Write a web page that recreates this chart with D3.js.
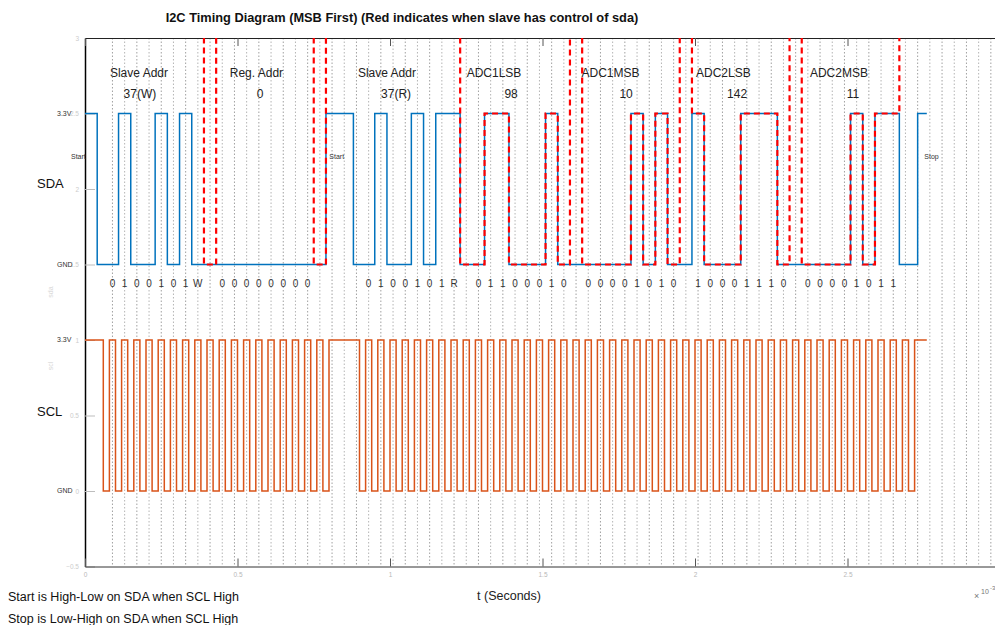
<!DOCTYPE html>
<html>
<head>
<meta charset="utf-8">
<script src="https://cdn.jsdelivr.net/npm/d3@7"></script>
<style>
  body { margin: 0; background: #fff; }
  svg { font-family: "Liberation Sans", Arial, Helvetica, sans-serif; }
</style>
</head>
<body>
<svg id="chart" width="995" height="625"></svg>
<script>
// clock period in ms (x axis is in units of 1e-3 s)
var clockPeriod = 0.04;

// SCL, one char per clock slot: H = high whole slot, p = high first half then low
var sclSlots = [
  "Hp",                 // idle, start
  "pppppppp", "p",      // slave addr + W, ack
  "pppppppp", "p",      // reg addr, ack
  "HHp",                // repeated start
  "pppppppp", "p",      // slave addr + R, ack
  "pppppppp", "p",      // ADC1LSB, ack
  "pppppppp", "p",      // ADC1MSB, ack
  "pppppppp", "p",      // ADC2LSB, ack
  "pppppppp", "p",      // ADC2MSB, nack
  "H"                   // stop
].join("");

// SDA edges: [time in clock periods, level after the edge]
var sdaEdges = [
  [0, 1], [1, 0],
  [2.75, 1], [3.75, 0], [5.75, 1], [6.75, 0], [7.75, 1], [8.75, 0],
  [19.75, 1], [22, 0],
  [23.75, 1], [24.75, 0], [26.75, 1], [27.75, 0], [28.75, 1], [30.75, 0],
  [32.75, 1], [34.75, 0], [37.75, 1], [38.75, 0],
  [44.75, 1], [45.75, 0], [46.75, 1], [47.75, 0],
  [49.75, 1], [50.75, 0], [53.75, 1], [56.75, 0],
  [62.75, 1], [63.75, 0], [64.75, 1], [66.75, 0],
  [68.25, 1]
];
var signalEnd = 69;   // clock periods

// spans where the slave drives SDA (clock periods)
var slaveSpans = [[9.75, 10.75], [18.75, 19.75], [30.75, 39.75], [40.75, 48.75], [49.75, 57.75], [58.75, 66.75]];

var fieldNames = ["Slave Addr", "Reg. Addr", "Slave Addr", "ADC1LSB", "ADC1MSB", "ADC2LSB", "ADC2MSB"];
var fieldValues = ["37(W)", "0", "37(R)", "98", "10", "142", "11"];
var fieldBits = ["0100101W", "00000000", "0100101R", "01100010", "00001010", "10001110", "00001011"];
var fieldFirstSlot = [2, 11, 23, 32, 41, 50, 59];
// where the field captions sit (ms)
var fieldNameAt = [0.177, 0.562, 0.990, 1.341, 1.723, 2.093, 2.472];
var fieldValueAt = [0.180, 0.574, 1.020, 1.397, 1.774, 2.138, 2.518];

var yTicks = [-0.5, 0, 0.5, 1, 1.5, 2, 2.5, 3];
var xTicks = [0, 0.5, 1, 1.5, 2, 2.5];
var levelNames = ["3.3V", "GND", "3.3V", "GND"];
var levelValues = [2.5, 1.5, 1, 0];
var eventNames = ["Start", "Start", "Stop"];
var eventAt = [-0.046, 0.801, 2.752];

var svg = d3.select("#chart");
var x = d3.scaleLinear().domain([0, 3]).range([85, 1000]);
var y = d3.scaleLinear().domain([-0.5, 3]).range([566.5, 38]);

svg.append("defs").append("clipPath").attr("id", "plot")
  .append("rect").attr("x", 85).attr("y", 38).attr("width", 915).attr("height", 528.5);

// dotted sample grid
var grid = svg.append("g");
d3.range(2, 75).forEach(function(k) {
  grid.append("line")
    .attr("x1", x((k + 0.25) * clockPeriod)).attr("x2", x((k + 0.25) * clockPeriod))
    .attr("y1", 38).attr("y2", 566.5)
    .attr("stroke", k % 2 ? "#b4b4b4" : "#a0a0a0")
    .attr("stroke-width", 1)
    .attr("stroke-dasharray", "1.5,2");
});

// axes
var leftAxis = svg.append("g").attr("transform", "translate(85,0)")
  .call(d3.axisLeft(y).tickValues(yTicks).tickSizeInner(-10).tickSizeOuter(0).tickPadding(6).tickFormat(d3.format("")));
leftAxis.select(".domain").attr("stroke", "#000").attr("stroke-width", 1.5);
leftAxis.selectAll(".tick line").attr("stroke", "#bdbdbd");
leftAxis.selectAll(".tick text").attr("fill", "#cccccc").attr("font-size", 6.5).attr("font-family", null);

var bottomAxis = svg.append("g").attr("transform", "translate(0,566.5)")
  .call(d3.axisBottom(x).tickValues(xTicks).tickSizeInner(-8).tickSizeOuter(0).tickPadding(6).tickFormat(d3.format("")));
bottomAxis.select(".domain").attr("stroke", "#333");
bottomAxis.selectAll(".tick line").attr("stroke", "#555");
bottomAxis.selectAll(".tick text").attr("fill", "#b8b8b8").attr("font-size", 6.5).attr("font-family", null);

var topAxis = svg.append("g").attr("transform", "translate(0,38)")
  .call(d3.axisTop(x).tickValues(xTicks).tickSizeInner(-8).tickSizeOuter(0).tickFormat(""));
topAxis.select(".domain").attr("stroke", "#222").attr("stroke-width", 1.2);
topAxis.selectAll(".tick line").attr("stroke", "#555");

// signals
var plot = svg.append("g").attr("clip-path", "url(#plot)");
var stepLine = d3.line()
  .x(function(d) { return x(d[0] * clockPeriod); })
  .y(function(d) { return y(d[1]); })
  .curve(d3.curveStepAfter);

var sdaPoints = sdaEdges.map(function(e) { return [e[0], 1.5 + e[1]]; });
sdaPoints.push([signalEnd, 1.5 + sdaEdges[sdaEdges.length - 1][1]]);
plot.append("path").attr("d", stepLine(sdaPoints))
  .attr("fill", "none").attr("stroke", "#0072BD").attr("stroke-width", 1.5);

var sclPoints = [];
sclSlots.split("").forEach(function(c, k) {
  sclPoints.push([k, 1]);
  if (c === "p") sclPoints.push([k + 0.5, 0]);
});
sclPoints.push([signalEnd, 1]);
plot.append("path").attr("d", stepLine(sclPoints))
  .attr("fill", "none").attr("stroke", "#D95319").attr("stroke-width", 1.5);

function levelAt(t, inclusive) {
  var lv = 1;
  sdaEdges.forEach(function(e) { if (inclusive ? e[0] <= t : e[0] < t) lv = e[1]; });
  return lv;
}
slaveSpans.forEach(function(s) {
  var pts = [[s[0], 3.6], [s[0], 1.5 + levelAt(s[0], true)]];
  sdaEdges.forEach(function(e) { if (e[0] > s[0] && e[0] < s[1]) pts.push([e[0], 1.5 + e[1]]); });
  pts.push([s[1], 1.5 + levelAt(s[1], false)]);
  pts.push([s[1], 3.6]);
  plot.append("path").attr("d", stepLine(pts))
    .attr("fill", "none").attr("stroke", "#FF0000").attr("stroke-width", 2.2)
    .attr("stroke-dasharray", "6,4");
});

// field captions and bit labels
fieldNames.forEach(function(n, i) {
  svg.append("text").attr("x", x(fieldNameAt[i])).attr("y", 77).attr("text-anchor", "middle")
    .attr("font-size", 12).attr("fill", "#222").text(n);
  svg.append("text").attr("x", x(fieldValueAt[i])).attr("y", 98).attr("text-anchor", "middle")
    .attr("font-size", 12).attr("fill", "#222").text(fieldValues[i]);
  fieldBits[i].split("").forEach(function(b, j) {
    svg.append("text").attr("x", x((fieldFirstSlot[i] + j + 0.25) * clockPeriod)).attr("y", 287)
      .attr("text-anchor", "middle").attr("font-size", 10).attr("fill", "#333").text(b);
  });
});

levelNames.forEach(function(n, i) {
  svg.append("text").attr("x", 57).attr("y", y(levelValues[i])).attr("dy", "0.35em")
    .attr("font-size", 7).attr("fill", "#333").text(n);
});
eventNames.forEach(function(n, i) {
  svg.append("text").attr("x", x(eventAt[i])).attr("y", 157).attr("dy", "0.35em")
    .attr("font-size", 7).attr("fill", "#333").text(n);
});

// labels
svg.append("text").attr("x", 402).attr("y", 22).attr("text-anchor", "middle")
  .attr("font-size", 12.8).attr("font-weight", "bold").attr("fill", "#111")
  .text("I2C Timing Diagram (MSB First) (Red indicates when slave has control of sda)");
svg.append("text").attr("x", 37).attr("y", 188).attr("font-size", 13).attr("fill", "#111").text("SDA");
svg.append("text").attr("x", 37).attr("y", 416).attr("font-size", 13).attr("fill", "#111").text("SCL");
svg.append("text").attr("transform", "translate(53,292) rotate(-90)").attr("text-anchor", "middle")
  .attr("font-size", 7).attr("fill", "#d8d8d8").text("sda");
svg.append("text").attr("transform", "translate(53,366) rotate(-90)").attr("text-anchor", "middle")
  .attr("font-size", 7).attr("fill", "#d8d8d8").text("scl");
svg.append("text").attr("x", 509).attr("y", 600).attr("text-anchor", "middle")
  .attr("font-size", 12.5).attr("fill", "#222").text("t (Seconds)");
svg.append("text").attr("x", 974).attr("y", 599).attr("font-size", 9).attr("fill", "#777").text("\u00d7");
svg.append("text").attr("x", 981).attr("y", 594).attr("font-size", 7).attr("fill", "#777").text("10");
svg.append("text").attr("x", 990).attr("y", 590).attr("font-size", 6).attr("fill", "#777").text("-3");
svg.append("text").attr("x", 8).attr("y", 601).attr("font-size", 12.5).attr("fill", "#111")
  .text("Start is High-Low on SDA when SCL High");
svg.append("text").attr("x", 8).attr("y", 623).attr("font-size", 12.5).attr("fill", "#111")
  .text("Stop is Low-High on SDA when SCL High");
</script>
</body>
</html>
